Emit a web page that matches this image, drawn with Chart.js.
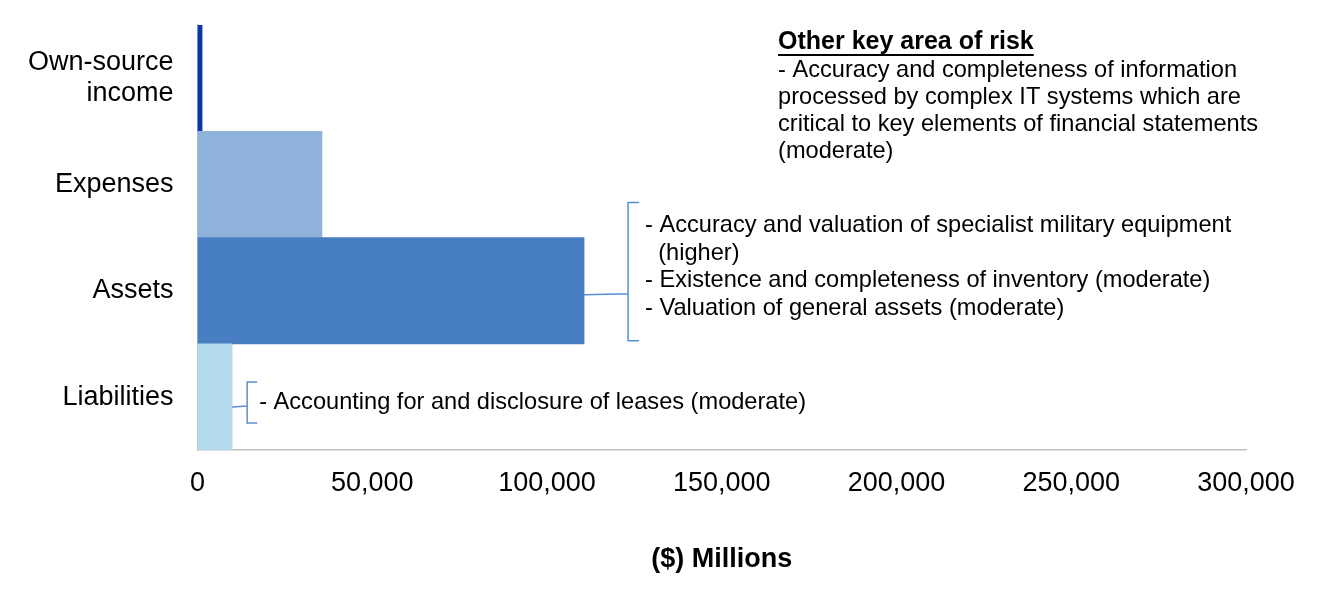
<!DOCTYPE html>
<html>
<head>
<meta charset="utf-8">
<script src="https://cdn.jsdelivr.net/npm/chart.js@4"></script>
<style>
  html, body { margin: 0; padding: 0; background: #fff; }
  #wrap { width: 1321px; height: 598px; position: relative; }
</style>
</head>
<body>
<div id="wrap"><canvas id="riskChart"></canvas></div>
<script>
// categories and values ($ millions)
const categories = [['Own-source', 'income'], 'Expenses', 'Assets', 'Liabilities'];
const amounts = [1300, 35600, 110600, 9900];
const barColours = ['#0b36a8', '#8fb2da', '#467ec1', '#b5daed'];
const xTicks = [0, 50000, 100000, 150000, 200000, 250000, 300000];

const otherRiskTitle = 'Other key area of risk';
const otherRiskLines = [
    '- Accuracy and completeness of information',
    'processed by complex IT systems which are',
    'critical to key elements of financial statements',
    '(moderate)'
];
const assetRiskLines = [
    '- Accuracy and valuation of specialist military equipment',
    '  (higher)',
    '- Existence and completeness of inventory (moderate)',
    '- Valuation of general assets (moderate)'
];
const liabilityRiskLines = ['- Accounting for and disclosure of leases (moderate)'];

const FONT = "'Liberation Sans', Arial, sans-serif";
const NOTE_SIZE = 23.6;

// draws the risk notes and the brackets that tie them to the bars
const notesPlugin = {
    id: 'riskNotes',
    afterDraw(chart) {
        const ctx = chart.ctx;
        const x = chart.scales.x, y = chart.scales.y;
        const area = chart.chartArea;
        const rowH = (area.bottom - area.top) / categories.length;
        ctx.save();
        ctx.fillStyle = '#000';
        ctx.textBaseline = 'middle';
        ctx.textAlign = 'left';

        // top right block
        const tx = x.getPixelForValue(166100);
        const ty = area.top + 17;
        ctx.font = 'bold 25px ' + FONT;
        ctx.fillText(otherRiskTitle, tx, ty);
        const w = ctx.measureText(otherRiskTitle).width;
        ctx.fillRect(tx, ty + 12, w, 2);
        ctx.font = NOTE_SIZE + 'px ' + FONT;
        otherRiskLines.forEach((l, i) => ctx.fillText(l, tx, ty + 28 + i * 27));

        ctx.strokeStyle = '#5a8fd2';
        ctx.lineWidth = 1.5;

        // assets bracket
        const aEnd = x.getPixelForValue(amounts[2]);
        const aMid = y.getPixelForValue(2);
        const bx = aEnd + 44;
        const bTop = aMid - rowH * 0.83, bBot = aMid + rowH * 0.47;
        ctx.beginPath();
        ctx.moveTo(aEnd, aMid + 4); ctx.lineTo(bx, aMid + 3);
        ctx.moveTo(bx + 11, bTop); ctx.lineTo(bx, bTop); ctx.lineTo(bx, bBot); ctx.lineTo(bx + 11, bBot);
        ctx.stroke();
        assetRiskLines.forEach((l, i) => ctx.fillText(l, bx + 17, bTop + 23 + i * 27.7));

        // liabilities bracket
        const lEnd = x.getPixelForValue(amounts[3]);
        const lMid = y.getPixelForValue(3);
        const lx = lEnd + 15;
        ctx.beginPath();
        ctx.moveTo(lEnd, lMid + 10); ctx.lineTo(lx, lMid + 9);
        ctx.moveTo(lx + 10, lMid - 15); ctx.lineTo(lx, lMid - 15); ctx.lineTo(lx, lMid + 26); ctx.lineTo(lx + 10, lMid + 26);
        ctx.stroke();
        ctx.fillText(liabilityRiskLines[0], lx + 12, lMid + 5);
        ctx.restore();
    }
};

const ctx = document.getElementById('riskChart').getContext('2d');
const chart = new Chart(ctx, {
    type: 'bar',
    data: {
        labels: categories,
        datasets: [{
            data: amounts,
            backgroundColor: barColours,
            borderWidth: 0,
            barPercentage: 1,
            categoryPercentage: 1
        }]
    },
    plugins: [notesPlugin],
    options: {
        indexAxis: 'y',
        responsive: true,
        maintainAspectRatio: false,
        animation: false,
        layout: {
            padding: { left: 4, right: 75, top: 25, bottom: 22 }
        },
        plugins: {
            legend: { display: false },
            tooltip: { enabled: false }
        },
        scales: {
            x: {
                min: 0,
                max: 300000,
                afterBuildTicks: axis => { axis.ticks = xTicks.map(v => ({ value: v })); },
                grid: { display: false, drawTicks: false },
                border: { display: true, color: '#bfbfbf', width: 1.5 },
                ticks: {
                    color: '#000',
                    font: { family: FONT, size: 27 },
                    padding: 17,
                    maxRotation: 0,
                    callback: v => v.toLocaleString('en-US')
                },
                title: {
                    display: true,
                    text: '($) Millions',
                    color: '#000',
                    font: { family: FONT, size: 27, weight: 'bold' },
                    padding: { top: 27, bottom: 0 }
                }
            },
            y: {
                grid: { display: false, drawTicks: false },
                border: { display: true, color: '#bfbfbf', width: 1.5 },
                // the two-line first label should not push the plot down
                afterFit: s => { s.paddingTop = 0; s.paddingBottom = 0; },
                ticks: {
                    color: '#000',
                    font: { family: FONT, size: 27, lineHeight: 1.15 },
                    padding: 24
                }
            }
        }
    }
});
</script>
</body>
</html>
